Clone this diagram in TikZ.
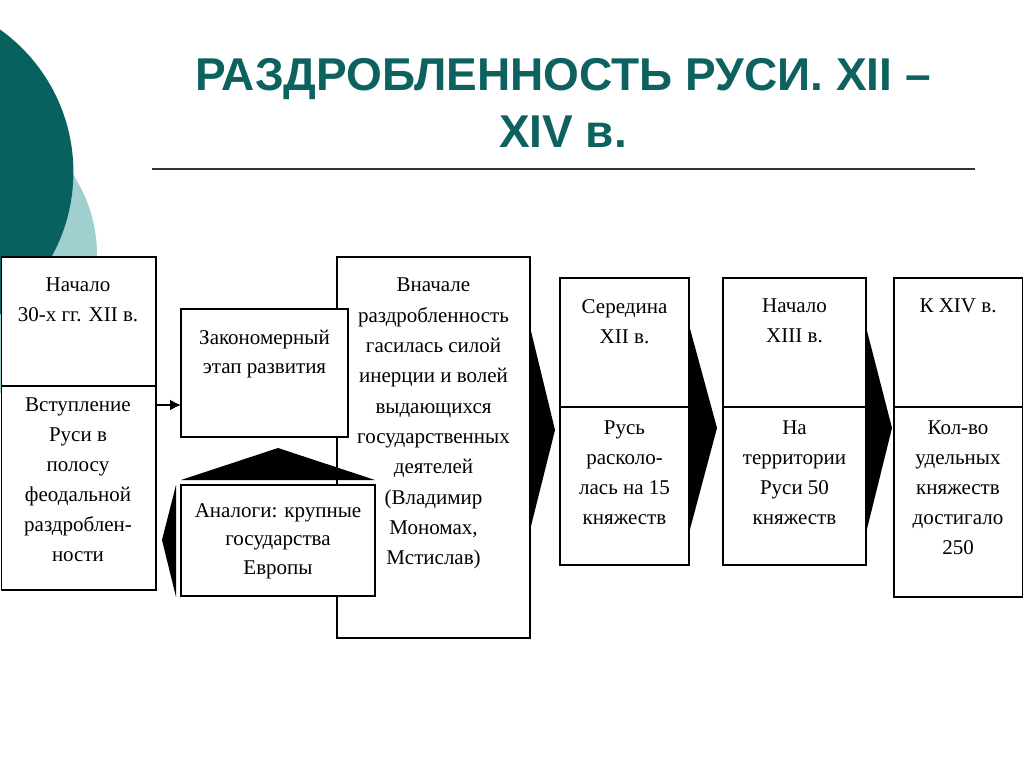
\documentclass[tikz,border=0pt]{standalone}
\usepackage{fontspec}
\setmainfont{Liberation Serif}
\newfontfamily\titlefont{Liberation Sans}
\usetikzlibrary{arrows.meta,fit}
\definecolor{tealdark}{HTML}{08615E}
\definecolor{teallight}{HTML}{9FCFCF}
\definecolor{titlecol}{HTML}{0D625F}
\begin{document}
\begin{tikzpicture}[x=1pt,y=-1pt,
  box/.style={draw=black, line width=1.8pt, fill=white, inner sep=0pt, outer sep=0pt},
  txt/.style={anchor=north, inner sep=0pt, align=center, font=\fontsize{21}{30}\selectfont},
  txtb/.style={txt, font=\fontsize{21}{28.5}\selectfont},
  blockarrow/.style={fill=black, draw=none},
  titletxt/.style={anchor=north, inner sep=0pt, align=center, text=titlecol,
    font=\titlefont\bfseries\fontsize{46}{57}\selectfont}]
\useasboundingbox (0,0) rectangle (1024,767);
\clip (0,0) rectangle (1024,767);
% background decoration
\fill[teallight] (-50,255) circle (147pt);
\fill[tealdark] (-101.6,172) circle (175pt);
% title
\node[titletxt] (title) at (563,58) {РАЗДРОБЛЕННОСТЬ РУСИ. XII –\\XIV в.};
\draw[line width=1.2pt, black!80] (152,169) -- (975,169);
% boxes
\node[box, fit={(1.5,257) (156,386)}] (A1) {};
\node[box, fit={(1.5,386) (156,590)}] (A2) {};
\node[box, fit={(337,257) (530,638)}] (C) {};
\node[box, fit={(181,309) (348,437)}] (B) {};
\node[box, fit={(181,485) (375,596)}] (D) {};
\node[box, fit={(560,278) (689,407)}] (E1) {};
\node[box, fit={(560,407) (689,565)}] (E2) {};
\node[box, fit={(723,278) (866,407)}] (F1) {};
\node[box, fit={(723,407) (866,565)}] (F2) {};
\node[box, fit={(894,278) (1022.5,407)}] (G1) {};
\node[box, fit={(894,407) (1022.5,597)}] (G2) {};
% texts
\node[txt] (tA1) at (78,278) {Начало\\30-х гг. XII в.};
\node[txt] (tA2) at (78,398) {Вступление\\Руси в\\полосу\\феодальной\\раздроблен-\\ности};
\node[txtb] (tB) at (264.5,330) {Закономерный\\этап развития};
\node[txt, font=\fontsize{21}{30.3}\selectfont] (tC) at (433.5,278) {Вначале\\раздробленность\\гасилась силой\\инерции и волей\\выдающихся\\государственных\\деятелей\\(Владимир\\Мономах,\\Мстислав)};
\node[txtb] (tD) at (278,503) {Аналоги: крупные\\государства\\Европы};
\node[txt] (tE1) at (624.5,299) {Середина\\XII в.};
\node[txt] (tE2) at (624.5,421) {Русь\\расколо-\\лась на 15\\княжеств};
\node[txt] (tF1) at (794.5,299) {Начало\\XIII в.};
\node[txt] (tF2) at (794.5,421) {На\\территории\\Руси 50\\княжеств};
\node[txt] (tG1) at (958,299) {К XIV в.};
\node[txt] (tG2) at (958,421) {Кол-во\\удельных\\княжеств\\достигало\\250};
% connectors
\draw[line width=1.8pt, -{Latex[length=11pt,width=11pt]}] (A2.east |- 0,405) -- (B.west |- 0,405);
% block arrows
\fill[blockarrow] (181,480) -- (278,448) -- (375,480) -- cycle;
\fill[blockarrow] (D.west |- 0,485) ++(-5,0) -- (162,540) -- (176,597) -- cycle;
\fill[blockarrow] (C.east |- 0,327) -- (555,430) -- (C.east |- 0,530) -- cycle;
\fill[blockarrow] (E1.east |- 0,325) -- (717,428) -- (E2.east |- 0,533) -- cycle;
\fill[blockarrow] (F1.east |- 0,327) -- (892,428) -- (F2.east |- 0,533) -- cycle;
\end{tikzpicture}
\end{document}
